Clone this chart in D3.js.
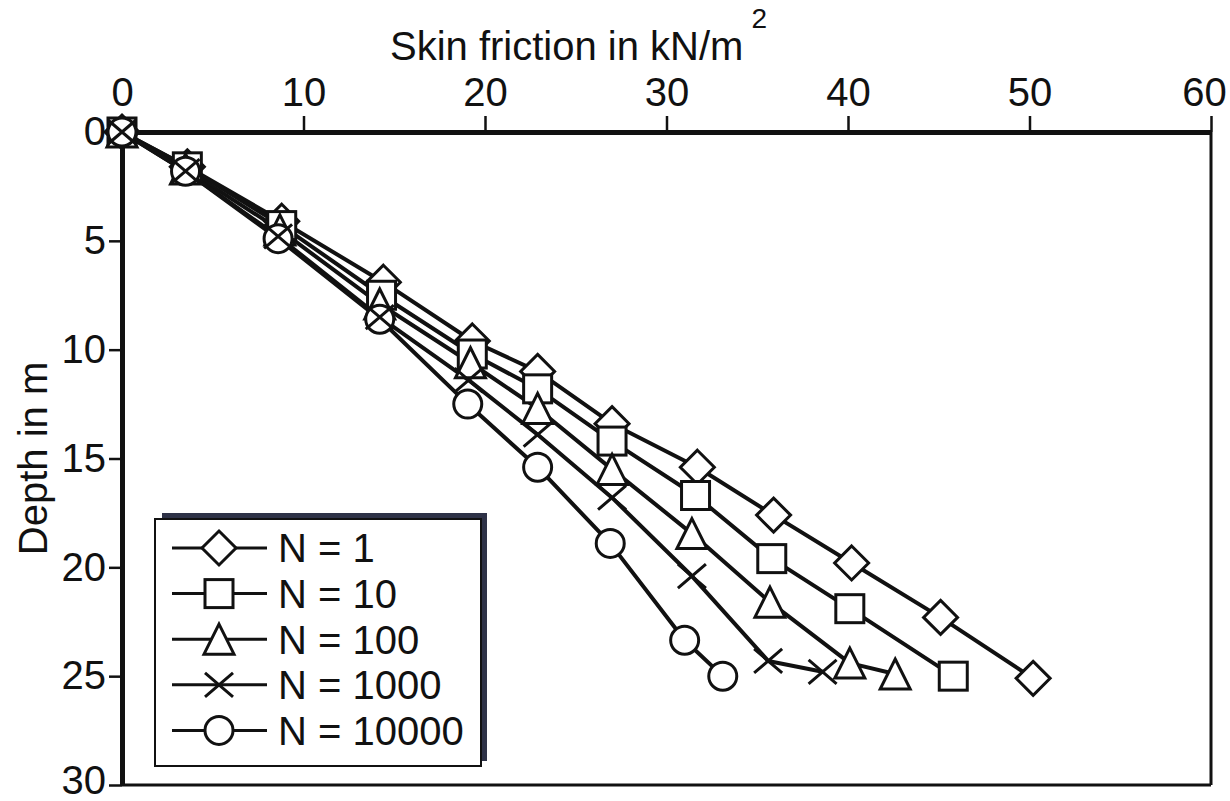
<!DOCTYPE html>
<html>
<head>
<meta charset="utf-8">
<script src="https://cdn.jsdelivr.net/npm/d3@7"></script>
<style>
  html, body { margin: 0; padding: 0; background: #ffffff; }
  svg { display: block; font-family: Arial, "Liberation Sans", Helvetica, sans-serif; }
</style>
</head>
<body>
<script>
// ---------------- data ----------------
const seriesNames = ["N = 1", "N = 10", "N = 100", "N = 1000", "N = 10000"];
const markerTypes = ["diamond", "square", "triangle", "cross", "circle"];

const friction1 = [0, 3.6, 8.8, 14.4, 19.3, 22.9, 27.0, 31.7, 35.9, 40.2, 45.1, 50.2];
const depth1    = [0, 1.6, 4.1, 6.9, 9.6, 11.0, 13.4, 15.4, 17.6, 19.8, 22.3, 25.1];

const friction10 = [0, 3.6, 8.8, 14.3, 19.3, 22.9, 27.0, 31.6, 35.8, 40.1, 45.8];
const depth10    = [0, 1.6, 4.3, 7.5, 10.2, 11.8, 14.2, 16.7, 19.6, 21.9, 25.0];

const friction100 = [0, 3.5, 8.7, 14.2, 19.2, 22.9, 27.0, 31.4, 35.7, 40.1, 42.6];
const depth100    = [0, 1.7, 4.5, 7.9, 10.6, 12.7, 15.5, 18.45, 21.6, 24.4, 24.9];

const friction1000 = [0, 3.5, 8.6, 14.2, 19.1, 22.9, 27.0, 31.4, 35.6, 38.6];
const depth1000    = [0, 1.8, 4.8, 8.5, 11.4, 13.9, 16.8, 20.4, 24.3, 24.8];

const friction10000 = [0, 3.5, 8.6, 14.2, 19.05, 22.9, 26.9, 31.0, 33.1];
const depth10000    = [0, 1.8, 4.9, 8.6, 12.5, 15.4, 18.9, 23.35, 25.0];

const xTicks = [0, 10, 20, 30, 40, 50, 60];
const yTicks = [0, 5, 10, 15, 20, 25, 30];

const xTitle = "Skin friction in kN/m";
const xTitleSup = "2";
const yTitle = "Depth in m";

const frictionSets = [friction1, friction10, friction100, friction1000, friction10000];
const depthSets = [depth1, depth10, depth100, depth1000, depth10000];
const series = seriesNames.map((name, i) => ({
  name, marker: markerTypes[i],
  points: frictionSets[i].map((f, j) => ({ x: f, y: depthSets[i][j] }))
}));

// ---------------- layout ----------------
const W = 1230, H = 801;
const x = d3.scaleLinear().domain([0, 60]).range([122, 1211]);
const y = d3.scaleLinear().domain([0, 30]).range([132, 785]);

const svg = d3.select("body").append("svg").attr("width", W).attr("height", H);
const ink = "#111";

// frame (right & bottom)
svg.append("line").attr("x1", x(60)).attr("x2", x(60)).attr("y1", y(0)).attr("y2", y(30))
  .attr("stroke", ink).attr("stroke-width", 3);
svg.append("line").attr("x1", x(0)).attr("x2", x(60)).attr("y1", y(30)).attr("y2", y(30))
  .attr("stroke", ink).attr("stroke-width", 3);

// top axis
const gx = svg.append("g").attr("transform", `translate(0,${y(0)})`)
  .call(d3.axisTop(x).tickValues(xTicks).tickSize(16).tickSizeOuter(0).tickPadding(10));
gx.select(".domain").attr("stroke", ink).attr("stroke-width", 5);
gx.selectAll(".tick line").attr("stroke", ink).attr("stroke-width", 2.5);
gx.selectAll(".tick text").attr("fill", ink).style("font-size", "40px")
  .style("font-family", "Arial, 'Liberation Sans', sans-serif")
  .attr("dx", d => d === 60 ? -7 : 0);

// left axis
const gy = svg.append("g").attr("transform", `translate(${x(0)},0)`)
  .call(d3.axisLeft(y).tickValues(yTicks).tickSize(13).tickSizeOuter(0).tickPadding(3));
gy.select(".domain").attr("stroke", ink).attr("stroke-width", 5);
gy.selectAll(".tick line").attr("stroke", ink).attr("stroke-width", 2.5);
gy.selectAll(".tick text").attr("fill", ink).style("font-size", "40px")
  .style("font-family", "Arial, 'Liberation Sans', sans-serif")
  .attr("dy", d => d === 30 ? "0.22em" : "0.32em");

// titles
const t = svg.append("text").attr("x", 390).attr("y", 60).attr("fill", ink)
  .style("font-size", "40px");
t.append("tspan").text(xTitle);
t.append("tspan").attr("dy", -32).attr("dx", 8).style("font-size", "28px").text(xTitleSup);

svg.append("text").attr("transform", `translate(47,${(y(0) + y(30)) / 2}) rotate(-90)`)
  .attr("text-anchor", "middle").attr("fill", ink).style("font-size", "40px").text(yTitle);

// ---------------- markers ----------------
function drawMarker(g, type, cx, cy, scale) {
  const s = scale || 1;
  const sw = 3;
  if (type === "diamond") {
    const r = 17 * s;
    g.append("path").attr("d", `M${cx},${cy - r}L${cx + r},${cy}L${cx},${cy + r}L${cx - r},${cy}Z`)
      .attr("fill", "#fff").attr("stroke", ink).attr("stroke-width", sw);
  } else if (type === "square") {
    const h = 14 * s;
    g.append("rect").attr("x", cx - h).attr("y", cy - h).attr("width", 2 * h).attr("height", 2 * h)
      .attr("fill", "#fff").attr("stroke", ink).attr("stroke-width", sw);
  } else if (type === "triangle") {
    const h = 15 * s;
    g.append("path").attr("d", `M${cx},${cy - h}L${cx + h},${cy + h}L${cx - h},${cy + h}Z`)
      .attr("fill", "#fff").attr("stroke", ink).attr("stroke-width", sw);
  } else if (type === "cross") {
    const a = 14 * s, b = 12 * s;
    g.append("path").attr("d", `M${cx - a},${cy - b}L${cx + a},${cy + b}M${cx - a},${cy + b}L${cx + a},${cy - b}`)
      .attr("fill", "none").attr("stroke", ink).attr("stroke-width", sw);
  } else if (type === "circle") {
    g.append("circle").attr("cx", cx).attr("cy", cy).attr("r", 14 * s)
      .attr("fill", "#fff").attr("stroke", ink).attr("stroke-width", sw);
  }
}

// ---------------- lines ----------------
const line = d3.line().x(d => x(d.x)).y(d => y(d.y));
const gLines = svg.append("g");
series.forEach(s => {
  gLines.append("path").datum(s.points).attr("d", line)
    .attr("fill", "none").attr("stroke", ink).attr("stroke-width", 4)
    .attr("stroke-linejoin", "round");
});

// markers (circles before crosses so crosses show on top)
const drawOrder = [0, 1, 2, 4, 3];
const gMarkers = svg.append("g");
drawOrder.forEach(i => {
  const s = series[i];
  s.points.forEach(p => drawMarker(gMarkers, s.marker, x(p.x), y(p.y)));
});

// ---------------- legend ----------------
const lg = svg.append("g");
lg.append("rect").attr("x", 162).attr("y", 513).attr("width", 325).attr("height", 248)
  .attr("fill", "#2e3247");
lg.append("rect").attr("x", 155).attr("y", 519).attr("width", 326).attr("height", 247)
  .attr("fill", "#fff").attr("stroke", ink).attr("stroke-width", 2);
series.forEach((s, i) => {
  const cy = 548 + i * 45.6;
  lg.append("line").attr("x1", 172).attr("x2", 267).attr("y1", cy).attr("y2", cy)
    .attr("stroke", ink).attr("stroke-width", 3);
  drawMarker(lg, s.marker, 219, cy, 1);
  lg.append("text").attr("x", 278).attr("y", cy).attr("dy", "0.36em").attr("fill", ink)
    .style("font-size", "40px").text(s.name);
});
</script>
</body>
</html>
